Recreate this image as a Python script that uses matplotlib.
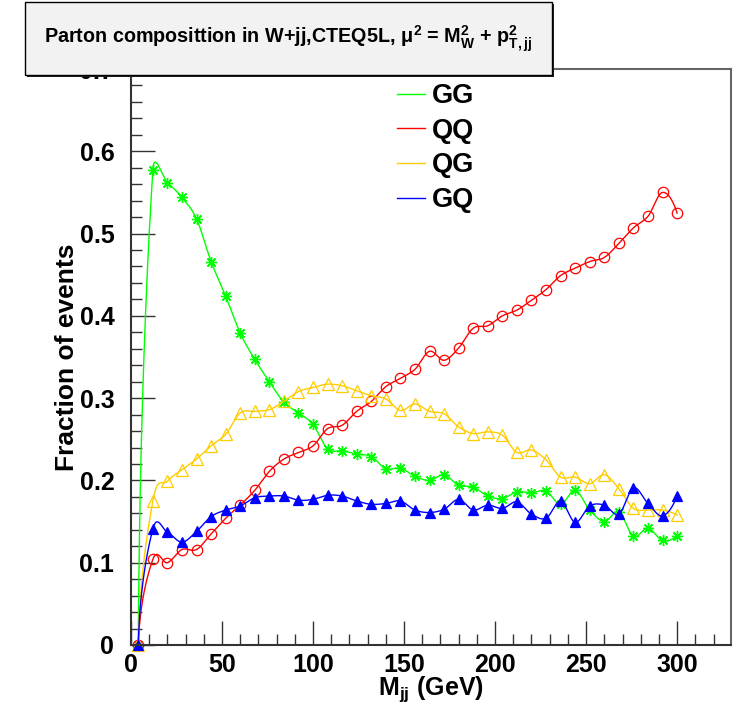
import numpy as np
import matplotlib
matplotlib.use("Agg")
from matplotlib import pyplot as plt
from matplotlib.lines import Line2D
from matplotlib.patches import Rectangle

plt.rcParams['font.family'] = ['Liberation Sans', 'DejaVu Sans']
plt.rcParams['font.weight'] = 'bold'
plt.rcParams['mathtext.fontset'] = 'custom'
plt.rcParams['mathtext.rm'] = 'Liberation Sans:bold'
plt.rcParams['mathtext.it'] = 'Liberation Sans:bold'
plt.rcParams['mathtext.bf'] = 'Liberation Sans:bold'
plt.rcParams['mathtext.sf'] = 'Liberation Sans:bold'

# dijet mass bins (GeV)
mjj = [4, 12, 20, 28, 36, 44, 52, 60, 68, 76, 84, 92, 100, 108, 116, 124, 132, 140, 148,
       156, 164, 172, 180, 188, 196, 204, 212, 220, 228, 236, 244, 252, 260, 268, 276,
       284, 292, 300]

# fraction of events per initial-state parton combination
gg = [0, 0.577, 0.562, 0.544, 0.518, 0.466, 0.424, 0.379, 0.347, 0.320, 0.295, 0.282,
      0.268, 0.238, 0.236, 0.232, 0.229, 0.214, 0.215, 0.205, 0.200, 0.207, 0.194, 0.192,
      0.181, 0.178, 0.186, 0.185, 0.187, 0.171, 0.188, 0.164, 0.150, 0.162, 0.132, 0.142,
      0.127, 0.133]
qq = [0, 0.104, 0.100, 0.116, 0.116, 0.135, 0.154, 0.170, 0.188, 0.211, 0.226, 0.234,
      0.242, 0.263, 0.267, 0.284, 0.296, 0.314, 0.324, 0.335, 0.357, 0.346, 0.361, 0.385,
      0.388, 0.400, 0.407, 0.419, 0.432, 0.449, 0.458, 0.466, 0.471, 0.488, 0.507, 0.521,
      0.550, 0.525]
qg = [0, 0.175, 0.199, 0.213, 0.226, 0.242, 0.256, 0.282, 0.284, 0.286, 0.296, 0.308,
      0.313, 0.317, 0.315, 0.309, 0.303, 0.299, 0.285, 0.293, 0.284, 0.281, 0.265, 0.257,
      0.259, 0.255, 0.234, 0.237, 0.225, 0.204, 0.204, 0.196, 0.207, 0.190, 0.166, 0.164,
      0.164, 0.158]
gq = [0, 0.141, 0.137, 0.125, 0.138, 0.156, 0.164, 0.169, 0.179, 0.181, 0.181, 0.176,
      0.177, 0.182, 0.181, 0.175, 0.171, 0.172, 0.175, 0.164, 0.161, 0.165, 0.177, 0.164,
      0.170, 0.166, 0.174, 0.159, 0.154, 0.175, 0.149, 0.169, 0.170, 0.159, 0.191, 0.172,
      0.157, 0.181]

labels = ['GG', 'QQ', 'QG', 'GQ']

XMAX, YMAX = 329.6, 0.7


def smooth(x, y, per_seg=60, clamp=3.5):
    """parametric Catmull-Rom curve (a la ROOT's "C" option), built in
    screen-like units; tangents are limited to a few chord lengths"""
    sx, sy = 600 / XMAX, 576 / YMAX
    P = np.column_stack([np.asarray(x, float) * sx, np.asarray(y, float) * sy])
    N = len(P)
    T = np.empty_like(P)
    T[1:-1] = (P[2:] - P[:-2]) / 2
    T[0] = 2 * (P[1] - P[0]) - T[1]
    T[0, 0] = 0.3 * (P[1, 0] - P[0, 0])
    T[-1] = 2 * (P[-1] - P[-2]) - T[-2]
    out = []
    for i in range(N - 1):
        chord = np.hypot(*(P[i + 1] - P[i]))
        m0, m1 = T[i].copy(), T[i + 1].copy()
        for m in (m0, m1):
            n = np.hypot(*m)
            if n > clamp * chord:
                m *= clamp * chord / n
        t = np.linspace(0, 1, per_seg, endpoint=(i == N - 2))[:, None]
        h00 = 2 * t**3 - 3 * t**2 + 1
        h10 = t**3 - 2 * t**2 + t
        h01 = -2 * t**3 + 3 * t**2
        h11 = t**3 - t**2
        out.append(h00 * P[i] + h10 * m0 + h01 * P[i + 1] + h11 * m1)
    C = np.concatenate(out)
    return C[:, 0] / sx, C[:, 1] / sy


fig = plt.figure(figsize=(7.33, 7.07), dpi=100)
ax = fig.add_axes([0.1787, 0.0877, 0.8186, 0.8147])

styles = [
    (gg, '#00ff00', dict(marker=(8, 2, 0), markersize=8, markeredgewidth=1.0, markerfacecolor='#00ff00')),
    (qq, '#ff0000', dict(marker='o', markersize=7.5, markeredgewidth=0.9, markerfacecolor='none')),
    (qg, '#ffcc00', dict(marker='^', markersize=8, markeredgewidth=0.9, markerfacecolor='none')),
    (gq, '#0000ff', dict(marker='^', markersize=7.5, markeredgewidth=0.9, markerfacecolor='#0000ff')),
]

handles = []
for (vals, col, mk), lab in zip(styles, labels):
    xs, ys = smooth(mjj, vals)
    ax.plot(xs, ys, color=col, lw=1.0)
    ax.plot(mjj, vals, linestyle='none', color=col, markeredgecolor=col, clip_on=False, **mk)
    handles.append(Line2D([], [], color=col, lw=1.0, label=lab))

ax.set_xlim(0, XMAX)
ax.set_ylim(0, YMAX)
ax.set_xticks([0, 50, 100, 150, 200, 250, 300])
ax.set_xticks(np.arange(0, 330, 10), minor=True)
ax.set_yticks([0, 0.1, 0.2, 0.3, 0.4, 0.5, 0.6, 0.7])
ax.set_yticks(np.arange(0, 0.7, 0.02), minor=True)
ax.set_yticklabels(['0', '0.1', '0.2', '0.3', '0.4', '0.5', '0.6', '0.7'])
ax.tick_params(which='both', direction='in', labelsize=18, top=False, right=False, width=1, color='#333333')
ax.tick_params(which='major', length=17)
ax.tick_params(which='minor', length=8)
ax.tick_params(axis='y', pad=12)
ax.tick_params(axis='x', pad=6)

for s in ['left', 'bottom']:
    ax.spines[s].set_color('#333333')
    ax.spines[s].set_linewidth(1.5)
for s in ['top', 'right']:
    ax.spines[s].set_color('#666666')
    ax.spines[s].set_linewidth(1.5)

ax.set_xlabel('M$_{jj}$ (GeV)', fontsize=18, fontweight='bold', labelpad=-2)
ax.set_ylabel('Fraction of events', fontsize=19, fontweight='bold', labelpad=0)

ax.legend(handles=handles, loc='upper left', bbox_to_anchor=(397 / 733, 1 - 83 / 707),
          bbox_transform=fig.transFigure, frameon=False, fontsize=19.5, handlelength=1.05,
          handletextpad=0.25, labelspacing=0.32, borderpad=0, borderaxespad=0)

# title pave with shadow
W, H = 733, 707
fig.add_artist(Rectangle((27 / W, 1 - 77 / H), 527 / W, 73 / H, transform=fig.transFigure,
                         facecolor='#222222', edgecolor='none', zorder=5))
fig.add_artist(Rectangle((25 / W, 1 - 75 / H), 527 / W, 73 / H, transform=fig.transFigure,
                         facecolor='#f2f2f2', edgecolor='#000000', lw=1.0, zorder=6))
fig.text(288 / W, 1 - 39 / H,
         r'Parton composittion in W+jj,CTEQ5L, $\mu^{2}$ = M$_{W}^{2}$ + p$_{T,jj}^{2}$',
         ha='center', va='center', fontsize=14.2, fontweight='bold', zorder=7)

plt.savefig('out.png', dpi=100)
